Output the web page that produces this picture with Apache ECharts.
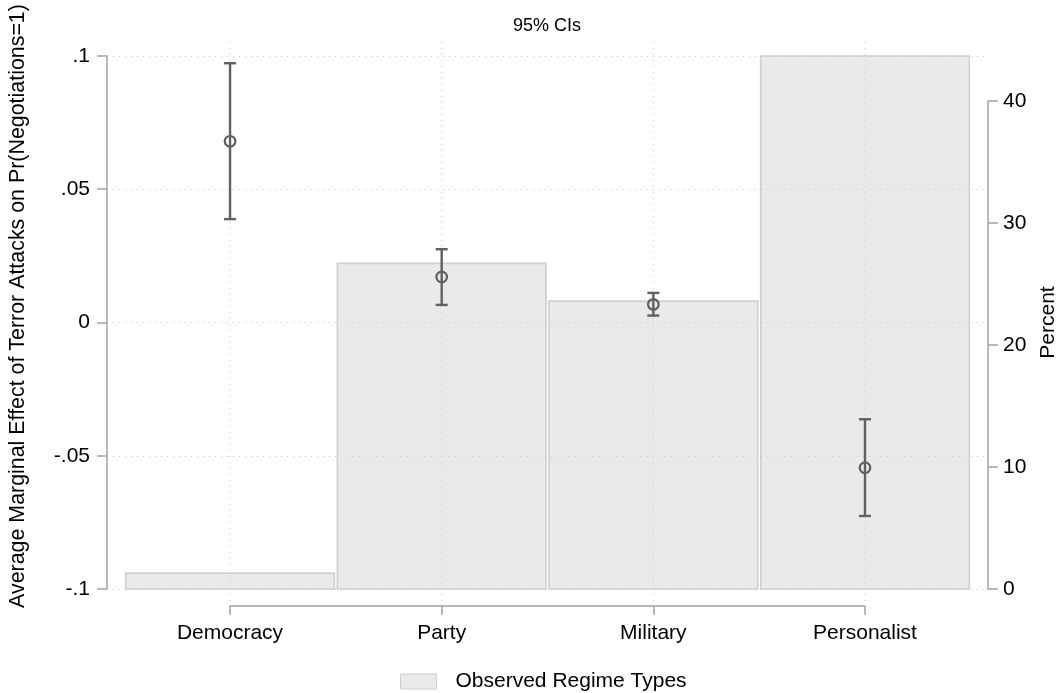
<!DOCTYPE html>
<html>
<head>
<meta charset="utf-8">
<script src="https://cdn.jsdelivr.net/npm/echarts@6/dist/echarts.min.js"></script>
<style>
  html, body { margin: 0; padding: 0; background: #fff; }
  #chart { width: 1064px; height: 693px; }
</style>
</head>
<body>
<div id="chart"></div>
<script>
// Regime types on the x axis
const CATEGORIES = ['Democracy', 'Party', 'Military', 'Personalist'];
// Share of observations per regime type (percent, right axis)
const REGIME_SHARE = [1.3, 26.7, 23.6, 43.7];
// Average marginal effects and 95% confidence bounds (left axis)
const AME = [0.068, 0.0171, 0.0068, -0.0545];
const CI_LOW = [0.0388, 0.0066, 0.0026, -0.0726];
const CI_HIGH = [0.0973, 0.0275, 0.0111, -0.0363];
// Axis ticks
const AME_TICKS = [-0.1, -0.05, 0, 0.05, 0.1];
const AME_TICK_LABELS = ['-.1', '-.05', '0', '.05', '.1'];
const PCT_TICKS = [0, 10, 20, 30, 40];
const PCT_MAX = 43.7;

const FONT = "'Liberation Sans', Arial, sans-serif";
const FS = 21;
const AXIS_GREY = '#a3a3a3';
const GRID_GREY = '#c6c6c6';
const CI_GREY = '#606060';

// plot region
const PLOT = { left: 113, top: 56, width: 872, height: 533 };
const X_MIN = -0.553, X_MAX = 3.567;
const rightAxisTop = PLOT.top + PLOT.height * (1 - PCT_TICKS[PCT_TICKS.length - 1] / PCT_MAX);
const rightAxisHeight = PLOT.height * PCT_TICKS[PCT_TICKS.length - 1] / PCT_MAX;

const idx = CATEGORIES.map((_, i) => i);
const barData = idx.map(i => [i, REGIME_SHARE[i]]);
const ciData = idx.map(i => [i, AME[i], CI_LOW[i], CI_HIGH[i]]);

function ameLabel(v) {
  for (let k = 0; k < AME_TICKS.length; k++) {
    if (Math.abs(AME_TICKS[k] - v) < 1e-9) return AME_TICK_LABELS[k];
  }
  return '';
}

const chart = echarts.init(document.getElementById('chart'), null, { renderer: 'canvas' });

chart.setOption({
  backgroundColor: '#ffffff',
  animation: false,
  textStyle: { fontFamily: FONT },
  title: {
    text: '95% CIs',
    left: 542, top: 12, textAlign: 'center',
    textStyle: { fontFamily: FONT, fontSize: 18, fontWeight: 'normal', color: '#000' }
  },
  legend: {
    left: 395, top: 666,
    selectedMode: false,
    itemWidth: 36, itemHeight: 15,
    data: [{
      name: 'Observed Regime Types', icon: 'rect',
      itemStyle: { color: '#eaeaea', borderColor: '#cfcfcf', borderWidth: 1 }
    }],
    textStyle: { fontFamily: FONT, fontSize: FS, color: '#000', lineHeight: 20, padding: [0, 0, 0, 14] }
  },
  grid: [
    { left: PLOT.left, top: PLOT.top, width: PLOT.width, height: PLOT.height, outerBoundsMode: 'none', containLabel: false },
    { left: 987, top: rightAxisTop, width: 1, height: rightAxisHeight, outerBoundsMode: 'none', containLabel: false },
    { left: 230, top: 600, width: 635, height: 6, outerBoundsMode: 'none', containLabel: false }
  ],
  xAxis: [
    { gridIndex: 0, type: 'value', min: X_MIN, max: X_MAX, show: false },
    { gridIndex: 1, type: 'value', min: 0, max: 1, show: false },
    {
      gridIndex: 2, type: 'category', data: CATEGORIES, boundaryGap: false, position: 'bottom',
      axisLine: { show: true, onZero: false, lineStyle: { color: AXIS_GREY, width: 1.5 } },
      axisTick: { show: true, length: 9, lineStyle: { color: AXIS_GREY, width: 1.5 } },
      axisLabel: { show: true, margin: 17, fontFamily: FONT, fontSize: FS, color: '#000', interval: 0 },
      splitLine: { show: false }
    }
  ],
  yAxis: [
    {
      gridIndex: 0, type: 'value', position: 'left', offset: 6,
      min: AME_TICKS[0], max: AME_TICKS[AME_TICKS.length - 1], interval: 0.05,
      z: 3,
      name: 'Average Marginal Effect of Terror Attacks on Pr(Negotiations=1)',
      nameLocation: 'middle', nameGap: 78, nameRotate: 90,
      nameTextStyle: { fontFamily: FONT, fontSize: 21.4, color: '#000', padding: [0, 0, 0, 33] },
      axisLine: { show: true, onZero: false, lineStyle: { color: AXIS_GREY, width: 1.5 } },
      axisTick: { show: true, length: 10, lineStyle: { color: AXIS_GREY, width: 1.5 } },
      axisLabel: { show: true, margin: 17, fontFamily: FONT, fontSize: FS, color: '#000', formatter: ameLabel },
      splitLine: { show: true, lineStyle: { color: GRID_GREY, type: [1, 5], width: 1 } }
    },
    {
      gridIndex: 0, type: 'value', position: 'right', offset: 3,
      min: 0, max: PCT_MAX,
      name: 'Percent', nameLocation: 'middle', nameGap: 50, nameRotate: 90,
      nameTextStyle: { fontFamily: FONT, fontSize: FS, color: '#000' },
      axisLine: { show: false, onZero: false }, axisTick: { show: false }, axisLabel: { show: false },
      splitLine: { show: false }
    },
    {
      gridIndex: 1, type: 'value', position: 'right',
      min: PCT_TICKS[0], max: PCT_TICKS[PCT_TICKS.length - 1], interval: 10,
      axisLine: { show: true, onZero: false, lineStyle: { color: AXIS_GREY, width: 1.5 } },
      axisTick: { show: true, length: 10, lineStyle: { color: AXIS_GREY, width: 1.5 } },
      axisLabel: { show: true, margin: 15, fontFamily: FONT, fontSize: FS, color: '#000' },
      splitLine: { show: false }
    },
    { gridIndex: 2, type: 'value', show: false }
  ],
  series: [
    {
      // regime type distribution
      name: 'Observed Regime Types',
      type: 'custom',
      xAxisIndex: 0, yAxisIndex: 1,
      z: 1,
      itemStyle: { color: '#eaeaea', borderColor: '#cfcfcf' },
      data: barData,
      encode: { x: 0, y: 1 },
      renderItem: function (params, api) {
        const x = api.value(0), v = api.value(1);
        const p0 = api.coord([x - 0.5, 0]);
        const p1 = api.coord([x + 0.5, v]);
        return {
          type: 'rect',
          shape: { x: p0[0] + 1.5, y: p1[1], width: p1[0] - p0[0] - 3, height: p0[1] - p1[1] },
          style: { fill: '#eaeaea', stroke: '#cfcfcf', lineWidth: 1.6 }
        };
      }
    },
    {
      // vertical grid lines at each regime type
      type: 'custom',
      xAxisIndex: 0, yAxisIndex: 0,
      z: 3, silent: true,
      data: idx.map(i => [i]),
      encode: { x: 0 },
      renderItem: function (params, api) {
        const x = api.value(0);
        const top = api.coord([x, AME_TICKS[AME_TICKS.length - 1]]);
        const bot = api.coord([x, AME_TICKS[0]]);
        return {
          type: 'line',
          shape: { x1: top[0], y1: top[1] - 14, x2: bot[0], y2: bot[1] + 12 },
          style: { stroke: GRID_GREY, lineWidth: 1, lineDash: [1, 5] }
        };
      }
    },
    {
      // average marginal effects with 95% CIs
      type: 'custom',
      xAxisIndex: 0, yAxisIndex: 0,
      z: 5,
      data: ciData,
      encode: { x: 0, y: [1, 2, 3] },
      renderItem: function (params, api) {
        const x = api.value(0);
        const m = api.coord([x, api.value(1)]);
        const lo = api.coord([x, api.value(2)]);
        const hi = api.coord([x, api.value(3)]);
        const cap = 6;
        const st = { stroke: CI_GREY, lineWidth: 2.4, fill: null };
        return {
          type: 'group',
          children: [
            { type: 'line', shape: { x1: lo[0], y1: lo[1], x2: hi[0], y2: hi[1] }, style: st },
            { type: 'line', shape: { x1: lo[0] - cap, y1: lo[1], x2: lo[0] + cap, y2: lo[1] }, style: st },
            { type: 'line', shape: { x1: hi[0] - cap, y1: hi[1], x2: hi[0] + cap, y2: hi[1] }, style: st },
            { type: 'circle', shape: { cx: m[0], cy: m[1], r: 5.3 }, style: { stroke: CI_GREY, lineWidth: 2.2, fill: null } }
          ]
        };
      }
    }
  ]
});
</script>
</body>
</html>
